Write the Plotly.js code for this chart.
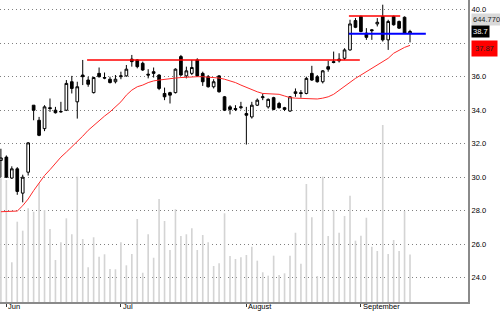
<!DOCTYPE html>
<html>
<head>
<meta charset="utf-8">
<script src="https://cdn.plot.ly/plotly-3.0.1.min.js"></script>
<style>
html,body{margin:0;padding:0;background:#fff;}
#chart{width:500px;height:312px;}
</style>
</head>
<body>
<div id="chart"></div>
<script>
// trading days (categories)
const days = [
  '2014-05-30',
  '2014-06-02','2014-06-03','2014-06-04','2014-06-05','2014-06-06',
  '2014-06-09','2014-06-10','2014-06-11','2014-06-12','2014-06-13',
  '2014-06-16','2014-06-17','2014-06-18','2014-06-19','2014-06-20',
  '2014-06-23','2014-06-24','2014-06-25','2014-06-26','2014-06-27',
  '2014-06-30',
  '2014-07-01','2014-07-02','2014-07-03','2014-07-04',
  '2014-07-07','2014-07-08','2014-07-09','2014-07-10','2014-07-11',
  '2014-07-14','2014-07-15','2014-07-16','2014-07-17','2014-07-18',
  '2014-07-21','2014-07-22','2014-07-23','2014-07-24','2014-07-25',
  '2014-07-28','2014-07-29','2014-07-30','2014-07-31',
  '2014-08-01',
  '2014-08-04','2014-08-05','2014-08-06','2014-08-07','2014-08-08',
  '2014-08-11','2014-08-12','2014-08-13','2014-08-14','2014-08-15',
  '2014-08-18','2014-08-19','2014-08-20','2014-08-21','2014-08-22',
  '2014-08-25','2014-08-26','2014-08-27','2014-08-28','2014-08-29',
  '2014-09-01','2014-09-02','2014-09-03','2014-09-04','2014-09-05',
  '2014-09-08','2014-09-09','2014-09-10','2014-09-11','2014-09-12'
];

const openP = [31.0,31.2,29.95,30.5,29.05,30.3,34.3,33.4,32.9,34.15,
  34.0,33.9,34.0,35.7,34.5,36.1,35.8,35.05,36.2,35.95,
  35.85,35.7,36.0,36.05,37.05,37.0,36.8,36.15,36.3,36.1,
  35.0,35.05,35.05,37.2,36.05,36.2,37.0,36.2,36.0,35.4,
  36.05,34.8,34.2,34.1,34.15,33.8,33.6,34.3,34.75,34.2,
  34.75,34.4,34.15,33.95,35.0,35.05,35.0,36.2,36.0,35.7,
  36.6,36.9,36.95,37.1,37.6,39.35,39.6,38.6,38.8,39.15,
  39.6,38.2,39.6,39.3,39.55,38.6];
const highP = [31.7,31.3,30.65,30.6,30.15,32.1,34.3,33.6,34.3,34.7,
  34.2,34.5,35.8,36.05,35.7,37.0,36.0,36.0,36.55,36.25,
  36.0,36.1,36.3,36.7,37.3,37.05,36.9,36.45,36.55,36.15,
  35.35,35.1,36.5,37.3,36.6,37.0,37.1,36.3,36.1,35.85,
  36.1,34.85,34.3,34.3,34.5,34.2,34.5,34.7,35.0,34.7,
  34.8,34.5,34.2,34.85,35.3,35.2,36.0,36.65,36.1,36.4,
  36.95,37.5,37.4,37.7,39.4,39.5,39.65,38.9,38.85,39.5,
  40.3,39.4,39.65,39.35,39.6,38.8];
const lowP = [30.0,29.95,29.9,28.95,28.5,30.1,33.4,32.45,32.75,33.9,
  33.8,33.85,33.95,35.0,33.5,35.5,35.4,35.0,35.95,35.85,
  35.6,35.6,35.85,36.0,36.6,36.5,36.35,35.9,35.95,35.2,
  34.6,34.4,35.0,36.05,35.9,36.1,36.0,35.45,35.35,35.3,
  35.05,33.95,33.75,33.95,34.05,31.95,33.5,34.25,34.6,34.1,
  34.0,34.1,33.95,33.9,34.8,34.75,34.95,35.75,35.65,35.6,
  36.3,36.8,36.85,37.0,37.55,38.9,38.65,38.2,38.2,39.0,
  38.1,37.6,39.05,38.85,38.55,38.05];
const closeP = [31.15,30.0,30.5,29.15,30.0,32.05,34.0,32.5,34.2,34.1,
  33.85,33.92,35.6,35.3,35.4,36.0,35.55,35.95,36.0,35.92,
  35.65,35.85,36.05,36.45,36.9,36.6,36.4,36.1,36.2,35.3,
  34.8,34.9,36.45,36.1,36.35,36.55,36.05,35.7,35.4,35.7,
  35.1,34.0,34.05,34.05,34.2,33.7,34.3,34.6,34.8,34.65,
  34.05,34.15,34.05,34.8,35.1,35.0,35.9,35.8,35.7,36.35,
  36.45,36.85,37.05,37.6,39.15,38.95,38.7,38.35,38.75,39.25,
  38.2,39.3,39.1,38.9,38.6,38.7];
const movingAvg = [27.94,27.94,27.94,27.98,28.3,28.7,29.2,29.65,30.1,30.45,
  30.85,31.2,31.5,31.8,32.1,32.45,32.8,33.1,33.4,33.65,
  33.9,34.2,34.5,34.9,35.2,35.4,35.5,35.65,35.75,35.8,
  35.85,35.9,35.92,35.95,35.98,36.0,36.0,36.0,35.98,35.96,
  35.92,35.85,35.75,35.65,35.5,35.35,35.25,35.1,35.0,34.98,
  34.96,34.95,34.85,34.75,34.72,34.7,34.67,34.67,34.67,34.72,
  34.8,34.95,35.2,35.45,35.7,35.9,36.1,36.3,36.5,36.65,
  36.85,37.1,37.4,37.6,37.75,37.87];
// volume in thousands
const volume = [1682,1659,540,1092,970,1274,1228,1614,1251,993,
  571,812,1138,921,1704,857,472,880,616,649,
  449,445,812,499,653,1129,398,921,602,1401,
  1102,707,1261,898,921,1002,707,911,812,490,
  526,1206,626,585,608,639,752,562,404,358,
  630,367,390,630,942,521,1605,1152,354,1704,
  898,1251,942,1170,1446,834,902,1146,752,694,
  2407,653,843,694,1238,644.77];

const priceTicks = [24,26,28,30,32,34,36,38,40];
const priceTickText = ['24.0','26.0','28.0','30.0','32.0','34.0','36.0','','40.0'];
const monthTickDays = ['2014-06-02','2014-07-01','2014-08-01','2014-09-01'];
const monthTickLabels = ['Jun','Jul','August','September'];

// horizontal level lines: start/end (trading-day index) and price
const levelFrom  = [15.8, 63.8, 63.8];
const levelTo    = [65.8, 73.2, 77.9];
const levelPrice = [37.0, 39.62, 38.57];
const levelColor = ['#ff0000','#ff0000','#0000ff'];

const FONT = 'Arial, "Liberation Sans", sans-serif';
const last = days.length - 1;

const traces = [
  {
    type:'bar', x:days, y:volume, xaxis:'x', yaxis:'y',
    marker:{color:'#d4d4d4', line:{width:0}}, width:0.3,
    hoverinfo:'skip', showlegend:false
  },
  {
    type:'scatter', mode:'lines', x:days, y:movingAvg, xaxis:'x', yaxis:'y2',
    line:{color:'#ff2a2a', width:1}, showlegend:false, hoverinfo:'skip'
  },
  {
    type:'candlestick', x:days, open:openP, high:highP, low:lowP, close:closeP,
    xaxis:'x', yaxis:'y2', whiskerwidth:0,
    increasing:{line:{color:'#000', width:1}, fillcolor:'#ffffff'},
    decreasing:{line:{color:'#000', width:1}, fillcolor:'#000000'},
    showlegend:false, hoverinfo:'skip'
  }
];

const shapes = levelPrice.map((p, k) => ({
  type:'line', xref:'x', yref:'y2',
  x0:levelFrom[k], x1:levelTo[k], y0:p, y1:p,
  line:{color:levelColor[k], width: k===2 ? 2 : 1.5}
}));

const annotations = [
  {
    xref:'paper', yref:'paper', x:1, y:0.934, xanchor:'left', yanchor:'middle', xshift:3,
    text: volume[last].toFixed(3), showarrow:false, bgcolor:'#d9d9d9',
    font:{family:FONT, size:7.5, color:'#222'}, borderpad:1
  },
  {
    xref:'paper', yref:'y2', x:1, y:closeP[last], xanchor:'left', yanchor:'middle', xshift:3,
    text: closeP[last].toFixed(1), showarrow:false, bgcolor:'#000000',
    font:{family:FONT, size:7.5, color:'#ffffff'}, borderpad:1
  },
  {
    xref:'paper', yref:'y2', x:1, y:movingAvg[last], xanchor:'left', yanchor:'middle', xshift:3, yshift:-3,
    text: movingAvg[last].toFixed(2), showarrow:false, bgcolor:'#ff0000',
    font:{family:FONT, size:7.5, color:'#222'}, borderpad:3
  }
].concat(monthTickDays.map((d, k) => ({
    xref:'x', yref:'paper', x:d, y:0, xanchor:'left', yanchor:'top', xshift:1, yshift:1,
    text: monthTickLabels[k], showarrow:false, borderpad:0,
    font:{family:FONT, size:7.5, color:'#000'}
})));

const layout = {
  width:500, height:312,
  margin:{l:0, r:32, t:0, b:10},
  paper_bgcolor:'#ffffff', plot_bgcolor:'#ffffff',
  font:{family:FONT, size:7.5, color:'#000'},
  showlegend:false,
  xaxis:{
    type:'category', range:[-0.165, 85.63], fixedrange:true,
    rangeslider:{visible:false},
    tickmode:'array', tickvals:monthTickDays, ticktext:monthTickLabels,
    showticklabels:false,
    ticks:'outside', ticklen:3, tickwidth:1, tickcolor:'#333',
    showgrid:false, zeroline:false,
    showline:true, linecolor:'#8a8a8a', linewidth:2
  },
  yaxis:{
    range:[0, 4107], visible:false, showgrid:false, zeroline:false, fixedrange:true
  },
  yaxis2:{
    overlaying:'y', side:'right', anchor:'x',
    range:[22.55, 40.58], fixedrange:true,
    tickmode:'array', tickvals:priceTicks, ticktext:priceTickText,
    ticks:'', tickfont:{family:FONT, size:7.5, color:'#000'},
    showgrid:true, gridcolor:'#808080', gridwidth:1, griddash:'1px,3px',
    zeroline:false, showline:true, linecolor:'#8a8a8a', linewidth:2
  },
  shapes:shapes,
  annotations:annotations
};

Plotly.newPlot('chart', traces, layout, {displayModeBar:false, staticPlot:true});
</script>
</body>
</html>
